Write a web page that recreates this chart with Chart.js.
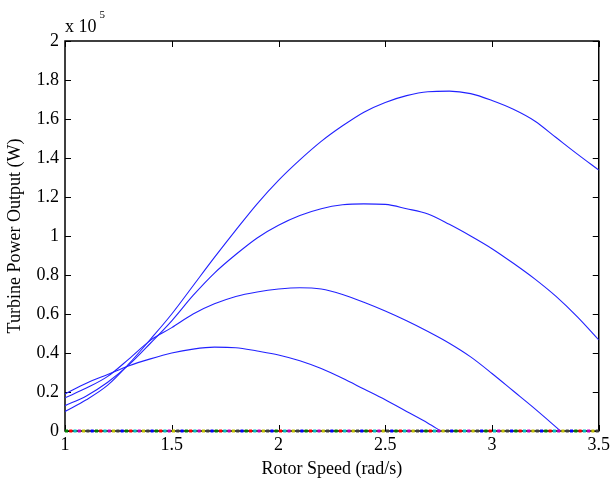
<!DOCTYPE html>
<html lang="en">
<head>
  <meta charset="UTF-8">
  <title>Turbine power vs rotor speed</title>
  <script src="https://cdn.jsdelivr.net/npm/chart.js"></script>
  <style>
    body {margin:0; background:#fff;}
    #wrap {width:613px; height:484px;}
  </style>
</head>
<body>
<div id="wrap"><canvas id="grafico" width="613" height="484"></canvas></div>

<script>
// rotor speed (rad/s) and power in units of 1e5 W
const speed1 = [1.0,1.1,1.2,1.3,1.4,1.5,1.6,1.7,1.8,1.9,2.0,2.1,2.2,2.3,2.4,2.5,2.6,2.7,2.8,2.9,3.0,3.1,3.2,3.3,3.4,3.5];
const power1 = [0.10,0.16,0.235,0.345,0.47,0.60,0.745,0.89,1.03,1.165,1.285,1.39,1.485,1.565,1.635,1.685,1.72,1.74,1.743,1.73,1.695,1.65,1.59,1.505,1.42,1.338];

const speed2 = [1.0,1.1,1.2,1.3,1.4,1.5,1.6,1.7,1.8,1.9,2.0,2.1,2.2,2.3,2.4,2.5,2.6,2.7,2.8,2.9,3.0,3.1,3.2,3.3,3.4,3.5];
const power2 = [0.13,0.18,0.25,0.34,0.45,0.565,0.695,0.81,0.905,0.99,1.055,1.105,1.14,1.16,1.165,1.162,1.14,1.113,1.06,1.00,0.935,0.86,0.78,0.69,0.585,0.467];

const speed3 = [1.0,1.1,1.2,1.3,1.4,1.5,1.6,1.7,1.8,1.9,2.0,2.1,2.2,2.3,2.4,2.5,2.6,2.7,2.8,2.9,3.0,3.1,3.2,3.3,3.32];
const power3 = [0.17,0.22,0.28,0.37,0.465,0.53,0.60,0.652,0.69,0.713,0.728,0.735,0.728,0.70,0.66,0.615,0.565,0.51,0.45,0.38,0.295,0.205,0.115,0.02,0];

const speed4 = [1.0,1.1,1.2,1.3,1.4,1.5,1.6,1.7,1.8,1.9,2.0,2.1,2.2,2.3,2.4,2.5,2.6,2.7,2.76];
const power4 = [0.19,0.245,0.29,0.335,0.37,0.40,0.42,0.43,0.427,0.41,0.39,0.36,0.32,0.27,0.215,0.16,0.10,0.04,0];

// flat zero series along the bottom (MATLAB colour order)
const zeroSpeed = [1.0, 3.5];
const zeroPower = [0, 0];
const zeroColors = ['#008000','#ff0000','#00bfbf','#bf00bf','#bfbf00','#404040','#0000ff'];

const xTicks = [1, 1.5, 2, 2.5, 3, 3.5];
const yTicks = [0, 0.2, 0.4, 0.6, 0.8, 1, 1.2, 1.4, 1.6, 1.8, 2];

const FONT = 'Liberation Serif, Times New Roman, serif';
const pts = (xs, ys) => xs.map((x, i) => ({x, y: ys[i]}));

const datasets = [];
const STEP = 4.28, PERIOD = STEP * zeroColors.length;
zeroColors.forEach((c, k) => {
  datasets.push({
    data: pts(zeroSpeed, zeroPower),
    borderColor: c,
    borderWidth: 3,
    borderDash: [3, PERIOD - 3],
    borderDashOffset: PERIOD - k * STEP,
    pointRadius: 0,
    clip: false,
    order: 0
  });
});
[[speed1, power1], [speed2, power2], [speed3, power3], [speed4, power4]].forEach(([xs, ys]) => {
  datasets.push({
    data: pts(xs, ys),
    borderColor: '#2222ff',
    borderWidth: 1.1,
    pointRadius: 0,
    cubicInterpolationMode: 'monotone',
    order: 1
  });
});

// box with inward ticks on all sides + exponent label
const boxPlugin = {
  id: 'box',
  beforeDatasetsDraw(chart) {
    const {ctx, chartArea: a, scales: {x, y}} = chart;
    ctx.save();
    ctx.strokeStyle = '#000';
    ctx.lineWidth = 1.5;
    ctx.strokeRect(a.left, a.top, a.right - a.left, a.bottom - a.top);
    ctx.lineWidth = 1;
    const TL = 6;
    ctx.beginPath();
    xTicks.forEach(v => {
      const px = Math.round(x.getPixelForValue(v)) + 0.5;
      ctx.moveTo(px, a.bottom); ctx.lineTo(px, a.bottom - TL);
      ctx.moveTo(px, a.top); ctx.lineTo(px, a.top + TL);
    });
    yTicks.forEach(v => {
      const py = Math.round(y.getPixelForValue(v)) + 0.5;
      ctx.moveTo(a.left, py); ctx.lineTo(a.left + TL, py);
      ctx.moveTo(a.right, py); ctx.lineTo(a.right - TL, py);
    });
    ctx.stroke();

    ctx.fillStyle = '#000';
    ctx.textBaseline = 'alphabetic';
    ctx.textAlign = 'left';
    ctx.font = '18px ' + FONT;
    ctx.fillText('x 10', a.left, a.top - 9);
    const w = ctx.measureText('x 10').width;
    ctx.font = '11px ' + FONT;
    ctx.fillText('5', a.left + w + 3, a.top - 23);
    ctx.restore();
  }
};

new Chart(document.getElementById('grafico'), {
  type: 'line',
  data: { datasets },
  options: {
    responsive: false,
    animation: false,
    layout: { padding: { top: 41, right: 13, left: 0, bottom: 0 } },
    plugins: { legend: { display: false }, tooltip: { enabled: false } },
    scales: {
      x: {
        type: 'linear', min: 1, max: 3.5,
        afterFit: s => { s.height = 53; },
        afterBuildTicks: s => { s.ticks = xTicks.map(v => ({value: v})); },
        grid: { display: false, drawTicks: false }, border: { display: false },
        ticks: { color: '#000', font: { family: FONT, size: 18 }, padding: 3, maxRotation: 0,
                 callback: v => String(v) },
        title: { display: true, text: 'Rotor Speed (rad/s)', color: '#000', font: { family: FONT, size: 18 }, padding: { top: 0, bottom: 4 } }
      },
      y: {
        type: 'linear', min: 0, max: 2,
        afterFit: s => { s.width = 65; },
        afterBuildTicks: s => { s.ticks = yTicks.map(v => ({value: v})); },
        grid: { display: false, drawTicks: false }, border: { display: false },
        ticks: { color: '#000', font: { family: FONT, size: 18 }, padding: 6,
                 callback: v => String(+v.toFixed(1)) },
        title: { display: true, text: 'Turbine Power Output (W)', color: '#000', font: { family: FONT, size: 18 }, padding: { top: 4, bottom: 0 } }
      }
    }
  },
  plugins: [boxPlugin]
});
</script>
</body>
</html>
